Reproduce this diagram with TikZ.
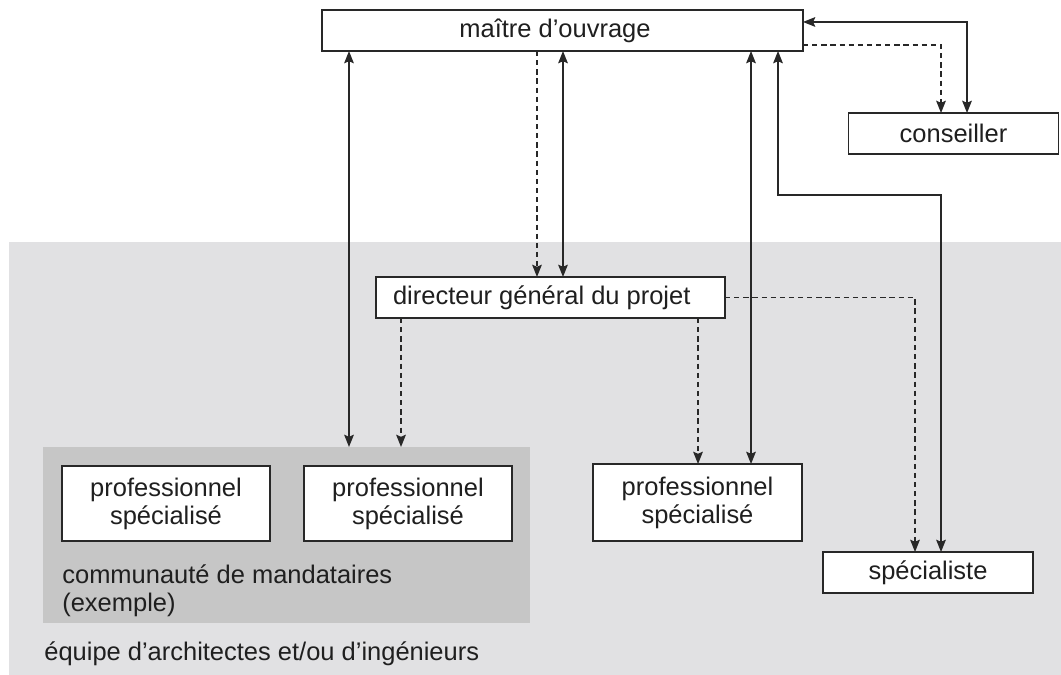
\documentclass[tikz,border=0pt]{standalone}
\usepackage{fontspec}
\setmainfont{Liberation Sans}
\usetikzlibrary{arrows.meta, positioning, calc}
\tikzset{>={Stealth[length=7pt,width=5.5pt,inset=1.2pt]}}
\definecolor{teamgray}{RGB}{225,225,227}
\definecolor{mandgray}{RGB}{198,198,198}
\definecolor{linegray}{RGB}{40,40,40}

\begin{document}
\begin{tikzpicture}[
  x=0.02cm, y=-0.02cm,
  font=\fontsize{14.5}{16}\selectfont,
  box/.style={rectangle,draw=linegray,fill=white,line width=0.9pt,inner sep=0pt,outer sep=0pt,minimum height=0.82cm,text=black!88},
  twoline/.style={box,align=center,minimum width=4.16cm,minimum height=1.5cm},
  link/.style={<->,line width=0.9pt,draw=linegray},
  order/.style={->,line width=0.9pt,draw=linegray,dash pattern=on 3pt off 2.2pt},
  lbl/.style={anchor=west,align=left,inner sep=0pt,text=black!88}
]
  \useasboundingbox (0,0) rectangle (1061,675);

  % Background areas
  \fill[teamgray] (9,242) rectangle (1061,675);
  \node[fill=mandgray,inner sep=0pt,outer sep=0pt,minimum width=9.74cm,minimum height=3.52cm] (mand) at (286.5,535) {};

  % Nodes
  \node[box, minimum width=9.62cm] (maitre) at (562.5,30.5) {\hspace*{-0.3cm}maître d’ouvrage};
  \node[box, minimum width=4.2cm] (cons) at (953.5,133.5) {conseiller};
  \node[box, minimum width=6.98cm] (dir) at (550.5,297.5) {\hspace*{-0.35cm}directeur général du projet};
  \node[twoline] (pro1) at (166,503.5) {professionnel\\spécialisé};
  \node[twoline, right=0.68cm of pro1] (pro2) {professionnel\\spécialisé};
  \node[twoline, minimum width=4.18cm, minimum height=1.54cm] (pro3) at (697.5,502.5) {professionnel\\spécialisé};
  \node[box, minimum width=4.2cm] (spec) at (928,572.5) {spécialiste};

  % Labels
  \node[lbl] (mandtxt) at (62,591) {communauté de mandataires\\(exemple)};
  \node[lbl] (teamtxt) at (44,654) {équipe d’architectes et/ou d’ingénieurs};

  % Columns and turns
  \coordinate (mandA) at (349,0);
  \coordinate (mandB) at (401,0);
  \coordinate (dirA) at (537,0);
  \coordinate (dirB) at (563,0);
  \coordinate (proA) at (698,0);
  \coordinate (proB) at (751,0);
  \coordinate (specA) at (778,0);
  \coordinate (specTurn) at (941,195);
  \coordinate (specB) at (915,0);
  \coordinate (consA) at (0,45);
  \coordinate (consB) at (0,22);
  \coordinate (consX) at (967,0);

  % Connectors
  \draw[link] (maitre.south -| mandA) -- (mand.north -| mandA);
  \draw[order] (dir.south -| mandB) -- (mand.north -| mandB);
  \draw[order] (maitre.south -| dirA) -- (dir.north -| dirA);
  \draw[link] (maitre.south -| dirB) -- (dir.north -| dirB);
  \draw[order] (dir.south -| proA) -- (pro3.north -| proA);
  \draw[link] (maitre.south -| proB) -- (pro3.north -| proB);
  \draw[link] (maitre.south -| specA) |- (specTurn) -- (spec.north -| specTurn);
  \draw[order] (dir.east) -| (spec.north -| specB);
  \draw[order] (maitre.east |- consA) -| (cons.north -| specTurn);
  \draw[link] (maitre.east |- consB) -| (cons.north -| consX);
\end{tikzpicture}
\end{document}
